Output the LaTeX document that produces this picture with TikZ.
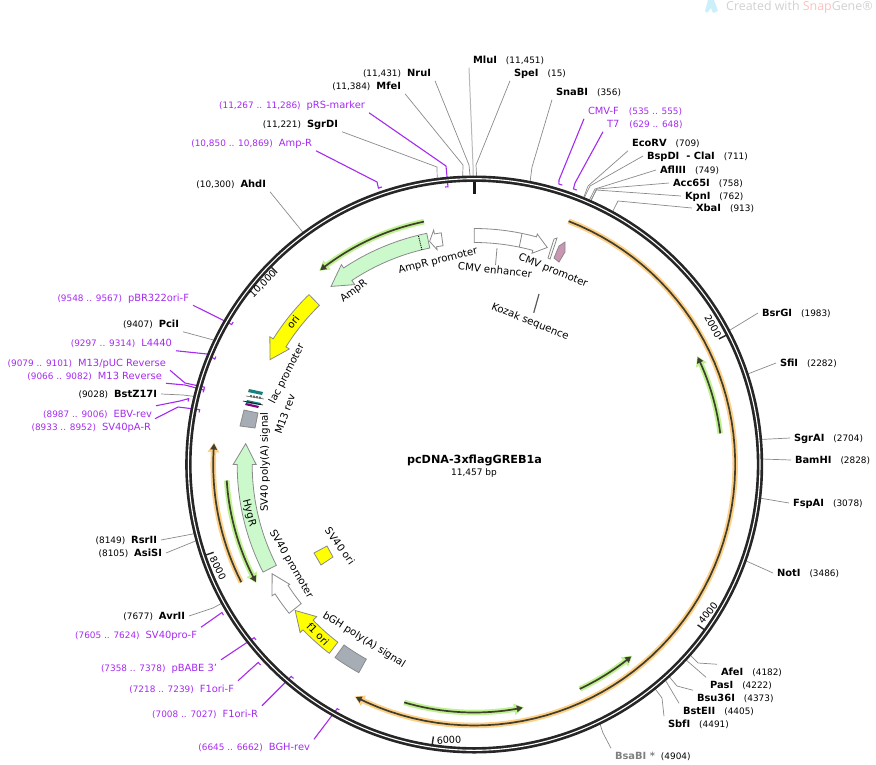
\documentclass[tikz,border=0pt]{standalone}
\usepackage{fontspec}
\setmainfont{DejaVu Sans}
\newfontfamily\markfont{Open Sans}
\usetikzlibrary{arrows.meta}

\definecolor{ringdark}{HTML}{262626}
\definecolor{siteline}{HTML}{8A8A8A}
\definecolor{primerpurple}{HTML}{A52AF0}
\definecolor{orangehalo}{HTML}{FFCF85}
\definecolor{greenhalo}{HTML}{BDF28F}
\definecolor{arcdark}{HTML}{3F3F30}
\definecolor{featgreen}{HTML}{CCF9CC}
\definecolor{featgray}{HTML}{A7ADB5}
\definecolor{featyellow}{RGB}{255,255,0}
\definecolor{featpink}{HTML}{C996B4}

% ring position: (rp cs:angle clockwise from the top/radius)
\def\rpparse#1/#2\relax{\pgfpointxy{474.2+(#2)*sin(#1)}{464.5-(#2)*cos(#1)}}
\tikzdeclarecoordinatesystem{rp}{\rpparse#1\relax}
% arrow on the ring: tail, head base, tip, inner r, outer r, head inner r, head outer r, style
\newcommand{\featarrow}[8]{
	\draw[#8] plot[domain=#1:#2,samples=30] ({474.2+#5*sin(\x)},{464.5-#5*cos(\x)})
		-- (rp cs:#2/#7) -- (rp cs:#3/{(#4+#5)/2}) -- (rp cs:#2/#6)
		-- plot[domain=#2:#1,samples=30] ({474.2+#4*sin(\x)},{464.5-#4*cos(\x)}) -- cycle;
}
\newcommand{\featband}[5]{
	\draw[#5] plot[domain=#1:#2,samples=12] ({474.2+#4*sin(\x)},{464.5-#4*cos(\x)})
		-- plot[domain=#2:#1,samples=12] ({474.2+#3*sin(\x)},{464.5-#3*cos(\x)}) -- cycle;
}
\newcommand{\numsize}{\fontsize{8.9}{10}\selectfont}
\newcommand{\lsite}[2]{{\numsize #1}\hspace{6pt}\textbf{#2}}
\newcommand{\rsite}[2]{\textbf{#1}\hspace{9pt}{\numsize #2}}
\newcommand{\lprimer}[2]{{\numsize #1}\hspace{6pt}#2}
\newcommand{\rprimer}[2]{#1\hspace{10pt}{\numsize #2}}

\tikzset{
	sitelab/.style={inner sep=0pt,outer sep=4pt,text height=7.5pt,text depth=0pt,font=\fontsize{9.9}{11}\selectfont,black},
	primerlab/.style={sitelab,primerpurple},
	siteconn/.style={draw=siteline,line width=0.7pt},
	primerconn/.style={draw=primerpurple,line width=1.1pt},
	featlab/.style={inner sep=0pt,font=\fontsize{10.2}{12}\selectfont,black},
	ticklab/.style={inner sep=0pt,font=\fontsize{9.6}{11}\selectfont,black},
	featbox/.style={draw=siteline,line width=0.8pt,line join=miter},
	orangearc/.style={draw=orangehalo,line width=5.5pt,-{Triangle[length=10pt,width=11pt]}},
	greenarc/.style={draw=greenhalo,line width=5.5pt,-{Triangle[length=10pt,width=11pt]}},
	arcline/.style={draw=arcdark,line width=1.7pt,-{Triangle[length=6pt,width=6.5pt]}}
}

\begin{document}
\begin{tikzpicture}[x=1pt,y=-1pt]
	\useasboundingbox (0,0) rectangle (876,764);

	% watermark
	\fill[cyan!20] (708,0) -- (714,0) -- (718,11) -- (713,13) -- (711,8) -- (707,13) -- (705,11) -- cycle;
	\node[inner sep=0pt,anchor=west,font=\markfont\fontsize{12.4}{14}\selectfont,black!18] (mark) at (726,7) {Created with \textcolor{red!25}{Snap}Gene®};

	% title
	\node[inner sep=0pt,font=\fontsize{11.2}{13}\selectfont\bfseries] (title) at (474.5,460.5) {pcDNA-3xflagGREB1a};
	\node[inner sep=0pt,font=\fontsize{9}{10}\selectfont] (size) at (474,473) {11,457 bp};

	% sites, top and left
	\node[sitelab,anchor=west] (mlui) at (469,60) {\rsite{MluI}{(11,451)}};
	\node[sitelab,anchor=west] (spei) at (510,73) {\rsite{SpeI}{(15)}};
	\node[sitelab,anchor=east] (nrui) at (435,73) {\lsite{(11,431)}{NruI}};
	\node[sitelab,anchor=east] (mfei) at (405,86) {\lsite{(11,384)}{MfeI}};
	\node[sitelab,anchor=east] (sgrdi) at (342,124) {\lsite{(11,221)}{SgrDI}};
	\node[sitelab,anchor=east] (ahdi) at (270,184) {\lsite{(10,300)}{AhdI}};
	\node[sitelab,anchor=east] (pcii) at (183,324) {\lsite{(9407)}{PciI}};
	\node[sitelab,anchor=east] (bstz) at (161,394) {\lsite{(9028)}{BstZ17I}};
	\node[sitelab,anchor=east] (rsrii) at (161,540) {\lsite{(8149)}{RsrII}};
	\node[sitelab,anchor=east] (asisi) at (166,553) {\lsite{(8105)}{AsiSI}};
	\node[sitelab,anchor=east] (avrii) at (189,616) {\lsite{(7677)}{AvrII}};

	% sites, right
	\node[sitelab,anchor=west] (snabi) at (552,92) {\rsite{SnaBI}{(356)}};
	\node[sitelab,anchor=west] (ecorv) at (628,143) {\rsite{EcoRV}{(709)}};
	\node[sitelab,anchor=west] (bspdi) at (643,156) {\rsite{BspDI\ \ - ClaI}{(711)}};
	\node[sitelab,anchor=west] (afliii) at (656,170) {\rsite{AflIII}{(749)}};
	\node[sitelab,anchor=west] (acc) at (669,183) {\rsite{Acc65I}{(758)}};
	\node[sitelab,anchor=west] (kpni) at (681,196) {\rsite{KpnI}{(762)}};
	\node[sitelab,anchor=west] (xbai) at (692,208) {\rsite{XbaI}{(913)}};
	\node[sitelab,anchor=west] (bsrgi) at (758,313) {\rsite{BsrGI}{(1983)}};
	\node[sitelab,anchor=west] (sfii) at (776,363) {\rsite{SfiI}{(2282)}};
	\node[sitelab,anchor=west] (sgrai) at (790,438) {\rsite{SgrAI}{(2704)}};
	\node[sitelab,anchor=west] (bamhi) at (791,460) {\rsite{BamHI}{(2828)}};
	\node[sitelab,anchor=west] (fspai) at (789,503) {\rsite{FspAI}{(3078)}};
	\node[sitelab,anchor=west] (noti) at (773,573) {\rsite{NotI}{(3486)}};
	\node[sitelab,anchor=west] (afei) at (717,672) {\rsite{AfeI}{(4182)}};
	\node[sitelab,anchor=west] (pasi) at (706,685) {\rsite{PasI}{(4222)}};
	\node[sitelab,anchor=west] (bsu) at (693,698) {\rsite{Bsu36I}{(4373)}};
	\node[sitelab,anchor=west] (bsteii) at (679,711) {\rsite{BstEII}{(4405)}};
	\node[sitelab,anchor=west] (sbfi) at (664,724) {\rsite{SbfI}{(4491)}};
	\node[sitelab,anchor=west] (bsabi) at (611,756) {\textcolor{black!50}{\textbf{BsaBI\ *}}\hspace{6pt}{\numsize (4904)}};

	% primers
	\node[primerlab,anchor=east] (prsmarker) at (369,105) {\lprimer{(11,267 .. 11,286)}{pRS-marker}};
	\node[primerlab,anchor=east] (ampr-p) at (316,143) {\lprimer{(10,850 .. 10,869)}{Amp-R}};
	\node[primerlab,anchor=west] (cmvf) at (584,111) {\rprimer{CMV-F}{(535 .. 555)}};
	\node[primerlab,anchor=west] (tseven) at (603,124) {\rprimer{T7}{(629 .. 648)}};
	\node[primerlab,anchor=east] (pbrori) at (193,297.5) {\lprimer{(9548 .. 9567)}{pBR322ori-F}};
	\node[primerlab,anchor=east] (lfour) at (176,343) {\lprimer{(9297 .. 9314)}{L4440}};
	\node[primerlab,anchor=east] (mpuc) at (170,362.5) {\lprimer{(9079 .. 9101)}{M13/pUC Reverse}};
	\node[primerlab,anchor=east] (mrev) at (166,375.5) {\lprimer{(9066 .. 9082)}{M13 Reverse}};
	\node[primerlab,anchor=east] (ebv) at (156,413.5) {\lprimer{(8987 .. 9006)}{EBV-rev}};
	\node[primerlab,anchor=east] (svpa) at (155,426.5) {\lprimer{(8933 .. 8952)}{SV40pA-R}};
	\node[primerlab,anchor=east] (svpro) at (201,635) {\lprimer{(7605 .. 7624)}{SV40pro-F}};
	\node[primerlab,anchor=east] (pbabe) at (221,667.5) {\lprimer{(7358 .. 7378)}{pBABE 3'}};
	\node[primerlab,anchor=east] (foneb) at (238,688.5) {\lprimer{(7218 .. 7239)}{F1ori-F}};
	\node[primerlab,anchor=east] (fonec) at (262,713.5) {\lprimer{(7008 .. 7027)}{F1ori-R}};
	\node[primerlab,anchor=east] (bgh) at (314,747) {\lprimer{(6645 .. 6662)}{BGH-rev}};

	% ring ends of the sites
	\coordinate (mlui-r) at (rp cs:359.8/287);
	\coordinate (spei-r) at (rp cs:0.5/287);
	\coordinate (nrui-r) at (rp cs:359.2/287);
	\coordinate (mfei-r) at (rp cs:357.7/287);
	\coordinate (sgrdi-r) at (rp cs:352.6/287);
	\coordinate (ahdi-r) at (rp cs:323.6/287);
	\coordinate (pcii-r) at (rp cs:295.6/287);
	\coordinate (bstz-r) at (rp cs:283.7/287);
	\coordinate (rsrii-r) at (rp cs:256.1/287);
	\coordinate (asisi-r) at (rp cs:254.7/287);
	\coordinate (avrii-r) at (rp cs:241.2/287);
	\coordinate (snabi-r) at (rp cs:11.2/287);
	\coordinate (ecorv-r) at (rp cs:22.3/287);
	\coordinate (bspdi-r) at (rp cs:22.4/287);
	\coordinate (afliii-r) at (rp cs:23.5/287);
	\coordinate (acc-r) at (rp cs:23.8/287);
	\coordinate (kpni-r) at (rp cs:23.9/287);
	\coordinate (xbai-r) at (rp cs:28.7/287);
	\coordinate (bsrgi-r) at (rp cs:62.3/287);
	\coordinate (sfii-r) at (rp cs:71.7/287);
	\coordinate (sgrai-r) at (rp cs:85/287);
	\coordinate (bamhi-r) at (rp cs:88.9/287);
	\coordinate (fspai-r) at (rp cs:96.7/287);
	\coordinate (noti-r) at (rp cs:109.5/287);
	\coordinate (afei-r) at (rp cs:131.4/287);
	\coordinate (pasi-r) at (rp cs:132.7/287);
	\coordinate (bsu-r) at (rp cs:137.4/287);
	\coordinate (bsteii-r) at (rp cs:138.4/287);
	\coordinate (sbfi-r) at (rp cs:141.1/287);
	\coordinate (bsabi-r) at (rp cs:154.1/287);

	% site connectors
	\path[siteconn,draw=black!28,line width=1pt] (mlui.south west) -- (473,165) -- (mlui-r);
	\path[siteconn] (spei.south west) -- (476,165) -- (spei-r);
	\path[siteconn] (nrui.south east) -- (469,165) -- (nrui-r);
	\path[siteconn] (mfei.south east) -- (463,165) -- (mfei-r);
	\path[siteconn] (sgrdi.south east) -- (437,167) -- (sgrdi-r);
	\path[siteconn] (ahdi.south east) -- (ahdi-r);
	\path[siteconn] (pcii.south east) -- (pcii-r);
	\path[siteconn] (bstz.east) -- (183,395) -- (bstz-r);
	\path[siteconn] (rsrii.east) -- (rsrii-r);
	\path[siteconn] (asisi.east) -- (asisi-r);
	\path[siteconn] (avrii.east) -- (213,608) -- (avrii-r);
	\path[siteconn] (snabi.south west) -- (532,167) -- (snabi-r);
	\path[siteconn] (ecorv.south west) -- (588,186) -- (ecorv-r);
	\path[siteconn] (bspdi.west) -- (590,186) -- (bspdi-r);
	\path[siteconn] (afliii.west) -- (595,189) -- (afliii-r);
	\path[siteconn] (acc.west) -- (597,189) -- (acc-r);
	\path[siteconn] (kpni.west) -- (596,190) -- (kpni-r);
	\path[siteconn] (xbai.west) -- (618,201) -- (xbai-r);
	\path[siteconn] (bsrgi.west) -- (bsrgi-r);
	\path[siteconn] (sfii.west) -- (sfii-r);
	\path[siteconn] (sgrai.west) -- (sgrai-r);
	\path[siteconn] (bamhi.west) -- (bamhi-r);
	\path[siteconn] (fspai.west) -- (fspai-r);
	\path[siteconn] (noti.west) -- (noti-r);
	\path[siteconn] (afei.north west) -- (698,663) -- (afei-r);
	\path[siteconn] (pasi.north west) -- (pasi-r);
	\path[siteconn] (bsu.north west) -- (677,686) -- (bsu-r);
	\path[siteconn] (bsteii.north west) -- (bsteii-r);
	\path[siteconn] (sbfi.north west) -- (662,698) -- (sbfi-r);
	\path[siteconn] (bsabi.north west) -- (603,733) -- (bsabi-r);

	% primer feet
	\coordinate (prsmarker-a) at (rp cs:354.6/279);
	\coordinate (prsmarker-b) at (rp cs:354/279);
	\coordinate (ampr-a) at (rp cs:340.9/292.5);
	\coordinate (ampr-b) at (rp cs:341.6/292.5);
	\coordinate (cmvf-a) at (rp cs:16.8/293);
	\coordinate (cmvf-b) at (rp cs:17.5/293);
	\coordinate (tseven-a) at (rp cs:19.8/293);
	\coordinate (tseven-b) at (rp cs:20.5/293);
	\coordinate (pbrori-a) at (rp cs:300/280);
	\coordinate (pbrori-b) at (rp cs:300.6/280);
	\coordinate (lfour-a) at (rp cs:292.1/280);
	\coordinate (lfour-b) at (rp cs:292.7/280);
	\coordinate (mpuc-a) at (rp cs:286/280.5);
	\coordinate (mpuc-b) at (rp cs:285.3/280.5);
	\coordinate (mrev-a) at (rp cs:285.4/280.5);
	\coordinate (mrev-b) at (rp cs:284.9/280.5);
	\coordinate (ebv-a) at (rp cs:283/293);
	\coordinate (ebv-b) at (rp cs:282.4/293);
	\coordinate (svpa-a) at (rp cs:281.3/280);
	\coordinate (svpa-b) at (rp cs:280.7/280);
	\coordinate (svpro-a) at (rp cs:239.6/292.5);
	\coordinate (svpro-b) at (rp cs:239/292.5);
	\coordinate (pbabe-a) at (rp cs:231.8/280);
	\coordinate (pbabe-b) at (rp cs:231.2/280);
	\coordinate (foneb-a) at (rp cs:227.5/293);
	\coordinate (foneb-b) at (rp cs:226.8/293);
	\coordinate (fonec-a) at (rp cs:220.8/280);
	\coordinate (fonec-b) at (rp cs:220.2/280);
	\coordinate (bgh-a) at (rp cs:209.3/280);
	\coordinate (bgh-b) at (rp cs:208.8/280);

	% primer connectors
	\path[primerconn] (prsmarker.south east) -- (446,166) -- (prsmarker-a) -- (prsmarker-b);
	\path[primerconn] (ampr-p.south east) -- (377,182) -- (ampr-a) -- (ampr-b);
	\path[primerconn] (cmvf.south west) -- (559,180) -- (cmvf-a) -- (cmvf-b);
	\path[primerconn] (tseven.south west) -- (575,183) -- (tseven-a) -- (tseven-b);
	\path[primerconn] (pbrori.south east) -- (pbrori-a) -- (pbrori-b);
	\path[primerconn] (lfour.south east) -- (207,354) -- (lfour-a) -- (lfour-b);
	\path[primerconn] (mpuc.south east) -- (185,383) -- (mpuc-a) -- (mpuc-b);
	\path[primerconn] (mrev.south east) -- (185,385) -- (mrev-a) -- (mrev-b);
	\path[primerconn] (ebv.north east) -- (180,401) -- (ebv-a) -- (ebv-b);
	\path[primerconn] (svpa.north east) -- (178,407) -- (svpa-a) -- (svpa-b);
	\path[primerconn] (svpro.north east) -- (svpro-a) -- (svpro-b);
	\path[primerconn] (pbabe.north east) -- (pbabe-a) -- (pbabe-b);
	\path[primerconn] (foneb.north east) -- (foneb-a) -- (foneb-b);
	\path[primerconn] (fonec.north east) -- (fonec-a) -- (fonec-b);
	\path[primerconn] (bgh.north east) -- (bgh-a) -- (bgh-b);

	% backbone
	\coordinate (ring) at (474.2,464.5);
	\draw[ringdark,line width=6.4pt] (ring) circle [radius=285.8pt];
	\draw[white,line width=1.1pt] (ring) circle [radius=285.8pt];
	\draw[black!90,line width=3pt] (rp cs:0/283) -- (rp cs:0/271);
	\draw[ringdark,line width=1.4pt] (rp cs:62.84/283) -- (rp cs:62.84/275);
	\draw[ringdark,line width=1.4pt] (rp cs:125.68/283) -- (rp cs:125.68/275);
	\draw[ringdark,line width=1.4pt] (rp cs:188.53/283) -- (rp cs:188.53/275);
	\draw[ringdark,line width=1.4pt] (rp cs:251.37/283) -- (rp cs:251.37/275);
	\draw[ringdark,line width=1.4pt] (rp cs:314.2/283) -- (rp cs:314.2/275);
	\node[ticklab,rotate=-61] (t2000) at (713,326) {2000};
	\node[ticklab,rotate=52] (t4000) at (708,613) {4000};
	\node[ticklab,rotate=4] (t6000) at (449,740) {6000};
	\node[ticklab,rotate=-63] (t8000) at (218,568) {8000};
	\node[ticklab,rotate=46] (t10000) at (263,284) {10,000};

	% orange and green arcs
	\draw[orangearc] plot[domain=21.2:207.3,samples=70] ({474.2+261*sin(\x)},{464.5-261*cos(\x)});
	\draw[arcline] plot[domain=21.2:207,samples=70] ({474.2+261*sin(\x)},{464.5-261*cos(\x)});
	\draw[orangearc] plot[domain=243.2:274.9,samples=20] ({474.2+261*sin(\x)},{464.5-261*cos(\x)});
	\draw[arcline] plot[domain=243.2:274.6,samples=20] ({474.2+261*sin(\x)},{464.5-261*cos(\x)});
	\draw[greenarc] plot[domain=82.8:64,samples=15] ({474.2+248*sin(\x)},{464.5-248*cos(\x)});
	\draw[arcline] plot[domain=82.8:64.3,samples=15] ({474.2+248*sin(\x)},{464.5-248*cos(\x)});
	\draw[greenarc] plot[domain=154.8:140.4,samples=15] ({474.2+248*sin(\x)},{464.5-248*cos(\x)});
	\draw[arcline] plot[domain=154.8:140.7,samples=15] ({474.2+248*sin(\x)},{464.5-248*cos(\x)});
	\draw[greenarc] plot[domain=196.4:168.4,samples=20] ({474.2+248*sin(\x)},{464.5-248*cos(\x)});
	\draw[arcline] plot[domain=196.4:168.7,samples=20] ({474.2+248*sin(\x)},{464.5-248*cos(\x)});
	\draw[greenarc] plot[domain=266.3:241.4,samples=20] ({474.2+248*sin(\x)},{464.5-248*cos(\x)});
	\draw[arcline] plot[domain=266.3:241.7,samples=20] ({474.2+248*sin(\x)},{464.5-248*cos(\x)});
	\draw[greenarc] plot[domain=348.3:321.3,samples=20] ({474.2+248*sin(\x)},{464.5-248*cos(\x)});
	\draw[arcline] plot[domain=348.3:321.6,samples=20] ({474.2+248*sin(\x)},{464.5-248*cos(\x)});

	% features
	\featarrow{348.4}{326.4}{321.2}{221}{236}{216}{240}{featbox,fill=featgreen}
	\draw[black,densely dotted,line width=0.9pt] (rp cs:346.3/221) -- (rp cs:346.3/236);
	\featarrow{351.9}{350.2}{348.7}{221}{234}{218}{238}{featbox,fill=white}
	\featarrow{0}{15.3}{18.6}{222}{236}{219}{239}{featbox,fill=white}
	\draw[siteline,line width=0.8pt] (rp cs:11.7/222) -- (rp cs:11.7/236);
	\featarrow{315.8}{302}{297.2}{222}{237}{218}{241}{featbox,fill=featyellow}
	\featarrow{243}{270}{275.2}{222}{237}{218}{241}{featbox,fill=featgreen}
	\featarrow{231.2}{237}{241.6}{222}{237.5}{220}{241}{featbox,fill=white}
	\featarrow{217.5}{226}{230.8}{224}{238}{219}{242}{featbox,fill=featyellow}
	\featband{209}{215.8}{222.5}{238}{featbox,fill=featgray}
	\draw[featbox,fill=featyellow] (314,553) -- (327,546) -- (333,557) -- (321,565) -- cycle;
	\draw[featbox,fill=featgray] (244,410) -- (258,413) -- (255,428) -- (240,426) -- cycle;

	% small parts near the lac promoter
	\draw[black!60,densely dotted,line width=2pt] (250,396) -- (262,398);
	\draw[black!60,line width=0.6pt] (246,396) -- (264,399);
	\fill[teal!80!gray] (249,389) -- (263,392) -- (262,395) -- (248,392) -- cycle;
	\fill[teal!80!gray] (247,400) -- (261,403) -- (260,405) -- (246,403) -- cycle;
	\draw[black,line width=0.6pt] (243,401) -- (263,405);
	\fill[violet] (246,403) -- (259,406) -- (258,408) -- (245,405) -- cycle;

	% small parts near the CMV promoter
	\draw[siteline,line width=0.8pt,fill=white] (557,238) -- (550,259) -- (548,258) -- (554,239) -- cycle;
	\draw[siteline,line width=0.8pt,fill=featpink] (554,258) -- (559,246) -- (565,242) -- (565,252) -- (559,262) -- cycle;

	% feature labels
	\node[featlab,rotate=14] (l-amppro) at (438,261) {AmpR promoter};
	\node[featlab,rotate=37] (l-ampr) at (354,291) {AmpR};
	\node[featlab,rotate=-6,outer sep=1pt] (l-cmvenh) at (495,270) {CMV enhancer};
	\node[featlab,rotate=-22] (l-cmvpro) at (553,271) {CMV promoter};
	\node[featlab,rotate=-22,outer sep=5pt] (l-kozak) at (530,322) {Kozak sequence};
	\node[featlab,rotate=52] (l-ori) at (293,322) {ori};
	\node[featlab,rotate=63] (l-lac) at (287,374) {lac promoter};
	\node[featlab,rotate=70] (l-mrev) at (285,414) {M13 rev};
	\node[featlab,rotate=90] (l-svpa) at (265,462) {SV40 poly(A) signal};
	\node[featlab,rotate=-75] (l-hygr) at (249,513) {HygR};
	\node[featlab,rotate=-60] (l-svpro) at (291,564) {SV40 promoter};
	\node[featlab,rotate=-54] (l-svori) at (340,546) {SV40 ori};
	\node[featlab,rotate=-45] (l-fone) at (318,634) {f1 ori};
	\node[featlab,rotate=-32] (l-bgh) at (364,640) {bGH poly(A) signal};

	\coordinate (cmvenh-f) at (497,248);
	\coordinate (kozak-f) at (539,294);
	\path[draw=siteline,line width=0.8pt] (cmvenh-f) -- (l-cmvenh.north);
	\path[draw=black!65,line width=1.2pt] (kozak-f) -- (l-kozak.north);
\end{tikzpicture}
\end{document}
